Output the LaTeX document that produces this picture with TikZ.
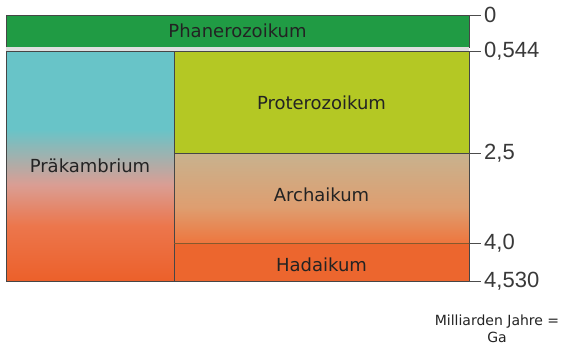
\documentclass[tikz,border=0pt]{standalone}
\usepackage{fontspec}
\setmainfont{DejaVu Sans}
\newfontfamily\numfont{Liberation Sans}
\usepackage{xcolor}
\usetikzlibrary{positioning}

\definecolor{phangreen}{RGB}{32,155,68}
\definecolor{protgreen}{RGB}{180,200,36}
\definecolor{prakcyan}{RGB}{104,196,200}
\definecolor{prakpink}{RGB}{218,158,148}
\definecolor{prakorange}{RGB}{236,118,76}
\definecolor{prakbot}{RGB}{236,96,42}
\definecolor{archtan}{RGB}{200,178,142}
\definecolor{archmid}{RGB}{222,158,112}
\definecolor{archbot}{RGB}{238,118,62}
\definecolor{hadorange}{RGB}{236,102,46}
\definecolor{labtext}{RGB}{35,35,35}

\pgfdeclareverticalshading{prakshade}{100bp}{color(0bp)=(prakbot); color(25bp)=(prakbot);
  color(37bp)=(prakorange); color(46bp)=(prakpink); color(58bp)=(prakcyan);
  color(75bp)=(prakcyan); color(100bp)=(prakcyan)}
\pgfdeclareverticalshading{archshade}{100bp}{color(0bp)=(archbot); color(25bp)=(archbot);
  color(45bp)=(archmid); color(75bp)=(archtan); color(100bp)=(archtan)}

\begin{document}
\begin{tikzpicture}[x=1pt, y=-1pt,
    every node/.style={font=\fontsize{18}{20}\selectfont, text=labtext},
    era/.style={draw=gray!55!black, line width=0.6pt},
    tick/.style={draw=gray!60!black, line width=0.7pt},
    agelab/.style={anchor=west, inner sep=3pt, font=\numfont\fontsize{22}{24}\selectfont, text=gray!45!black}]
  \useasboundingbox (0,0) rectangle (569,349);
  % eras
  \fill[phangreen] (6,15) rectangle (469,47);
  \draw[era] (6,15) rectangle (469,47);
  \fill[gray!25] (6,47) rectangle (469,51);
  \shade[shading=prakshade] (6,51) rectangle (174,281);
  \fill[protgreen] (174,51) rectangle (469,153);
  \shade[shading=archshade] (174,153) rectangle (469,243);
  \fill[hadorange] (174,243) rectangle (469,281);
  \draw[era] (6,51) rectangle (469,281);
  \draw[era] (174,51) -- (174,281);
  \draw[era] (174,153) -- (469,153);
  \draw[draw=brown!70!black, line width=0.8pt] (174,243) -- (469,243);
  \node (phan) at (237.5,31) {Phanerozoikum};
  \node (prak) at (90,166) {Präkambrium};
  \node (prot) at (321.5,103) {Proterozoikum};
  \node (arch) at (321.5,195) {Archaikum};
  \node (hada) at (321.5,265) {Hadaikum};
  % time scale
  \foreach \y/\lab/\nm in {15/0/a,51/{0,544}/b,153/{2,5}/c,243/{4,0}/d,281/{4,530}/e} {
    \coordinate (t\nm) at (469,\y);
    \node[agelab] (l\nm) at (481,\y) {\lab};
    \draw[tick] (t\nm) -- (l\nm.west);
  }
  \node[font=\fontsize{14}{16}\selectfont] (unit) at (497,322) {Milliarden Jahre =};
  \node[font=\fontsize{14}{16}\selectfont, below=-4pt of unit] (ga) {Ga};
\end{tikzpicture}
\end{document}
